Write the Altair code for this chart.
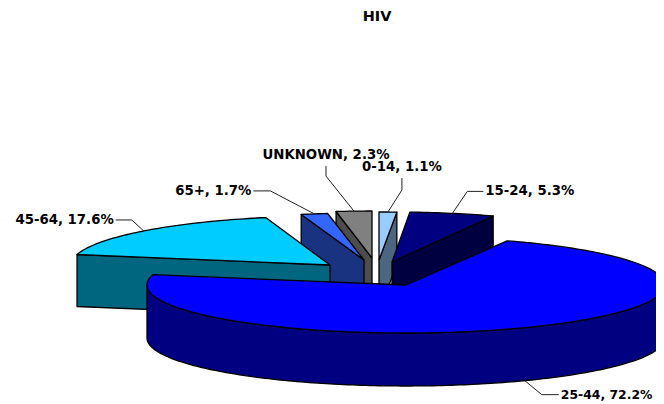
import math
import altair as alt
import pandas as pd

# chart data
categories = ["0-14", "15-24", "25-44", "45-64", "65+", "UNKNOWN"]
shares = [1.1, 5.3, 72.2, 17.6, 1.7, 2.3]
chart_title = "HIV"

# slice layout (separate from data): pull-out centre and radii of every slice
CENTER = {"0-14": (379, 260), "15-24": (392, 262), "25-44": (406, 285),
          "45-64": (330, 265), "65+": (364, 260), "UNKNOWN": (372, 258)}
RADII = {"0-14": (259, 48), "15-24": (259, 50), "25-44": (259, 48),
         "45-64": (259, 49), "65+": (253, 47), "UNKNOWN": (250, 47)}
DEPTH = 52
TOP = {"0-14": "#99ccff", "15-24": "#000080", "25-44": "#0000ff",
       "45-64": "#00ccff", "65+": "#3366ff", "UNKNOWN": "#808080"}
SIDE = {"0-14": "#4d6680", "15-24": "#000040", "25-44": "#000080",
        "45-64": "#006680", "65+": "#1a3380", "UNKNOWN": "#4d4d4d"}
# leader elbow and end, relative to rim point; label side; label size
LEADER = {"0-14": ((14, -22), (14, -34), "center", 13.3),
          "15-24": ((15, -22), (31, -22), "left", 13.3),
          "25-44": ((17, 14), (34, 14), "left", 12.4),
          "45-64": ((-12, -11), (-28, -11), "right", 13.3),
          "65+": ((-44, -23), (-61, -23), "right", 13.3),
          "UNKNOWN": ((-28, -35), (-28, -45), "center", 13.3)}

total = sum(shares)
spans = {}
a = 0.0
for c, s in zip(categories, shares):
    spans[c] = (a, a + s / total * 360)
    a += s / total * 360


def rim(c, ang, dy=0):
    cx, cy = CENTER[c]
    rx, ry = RADII[c]
    t = math.radians(ang)
    return (cx + rx * math.sin(t), cy - ry * math.cos(t) + dy)


def arc(c, a0, a1, dy=0):
    n = max(2, int(abs(a1 - a0)))
    return [rim(c, a0 + (a1 - a0) * i / n, dy) for i in range(n + 1)]


xs = alt.Scale(domain=[8, 656])
ys = alt.Scale(domain=[403, 8])


def poly(points, fill, sw=1.3):
    pts = list(points) + [points[0]]
    df = pd.DataFrame({"x": [p[0] for p in pts], "y": [p[1] for p in pts],
                       "i": list(range(len(pts)))})
    return alt.Chart(df).mark_line(fill=fill, stroke="black", strokeWidth=sw,
                                   strokeJoin="round", clip=False).encode(
        x=alt.X("x:Q", scale=xs, axis=None),
        y=alt.Y("y:Q", scale=ys, axis=None),
        order="i:Q")


def top(c):
    a0, a1 = spans[c]
    return poly([CENTER[c]] + arc(c, a0, a1), TOP[c])


def face(c, ang):
    cx, cy = CENTER[c]
    px, py = rim(c, ang)
    return poly([(cx, cy), (px, py), (px, py + DEPTH), (cx, cy + DEPTH)], SIDE[c])


layers = []
# back to front
layers += [face("0-14", spans["0-14"][1]), top("0-14")]
layers += [face("UNKNOWN", spans["UNKNOWN"][0]), top("UNKNOWN")]
layers += [face("65+", spans["65+"][0]), top("65+")]
layers += [face("15-24", spans["15-24"][1]), top("15-24")]
layers += [face("45-64", spans["45-64"][0]), top("45-64")]
# front slice: outer wall then top
wall_top = arc("25-44", 90, 270)
wall_bot = arc("25-44", 270, 90, DEPTH + 1)
layers += [poly(wall_top + wall_bot, SIDE["25-44"]), top("25-44")]

# leaders and labels
rows, labels = [], []
for c, s in zip(categories, shares):
    mid = sum(spans[c]) / 2
    dy = DEPTH + 1 if 90 < mid < 270 else 0
    rx, ry = rim(c, mid, dy)
    e, f, al, fs = LEADER[c]
    for i, (px, py) in enumerate([(rx, ry), (rx + e[0], ry + e[1]), (rx + f[0], ry + f[1])]):
        rows.append({"c": c, "i": i, "x": px, "y": py})
    gap = {"left": 2, "right": -2, "center": 0}[al]
    ly = ry + f[1] - (11 if al == "center" else 0)
    lx = rx + f[0] + gap
    labels.append({"t": f"{c}, {s}%", "x": lx, "y": ly, "al": al, "fs": fs})

leader = alt.Chart(pd.DataFrame(rows)).mark_line(stroke="#222222", strokeWidth=1, clip=False).encode(
    x=alt.X("x:Q", scale=xs, axis=None),
    y=alt.Y("y:Q", scale=ys, axis=None),
    detail="c:N", order="i:Q")
layers.append(leader)

ldf = pd.DataFrame(labels)
for al in ["left", "right", "center"]:
    layers.append(alt.Chart(ldf[ldf.al == al]).mark_text(
        font="DejaVu Sans", fontWeight="bold", color="black",
        align=al, baseline="middle").encode(
        x=alt.X("x:Q", scale=xs, axis=None),
        y=alt.Y("y:Q", scale=ys, axis=None),
        size=alt.Size("fs:Q", scale=None, legend=None),
        text="t:N"))
layers.append(alt.Chart(pd.DataFrame({"t": [chart_title], "x": [377], "y": [17]})).mark_text(
    font="DejaVu Sans", fontWeight="bold", fontSize=14.5, color="black").encode(
    x=alt.X("x:Q", scale=xs, axis=None),
    y=alt.Y("y:Q", scale=ys, axis=None),
    text="t:N"))

chart = alt.layer(*layers).properties(
    width=648, height=395, padding=0, autosize=alt.AutoSizeParams(type="none"),
    background="white"
).configure_view(stroke=None)

chart.save("out.html", embed_options={"renderer": "svg", "actions": False})
